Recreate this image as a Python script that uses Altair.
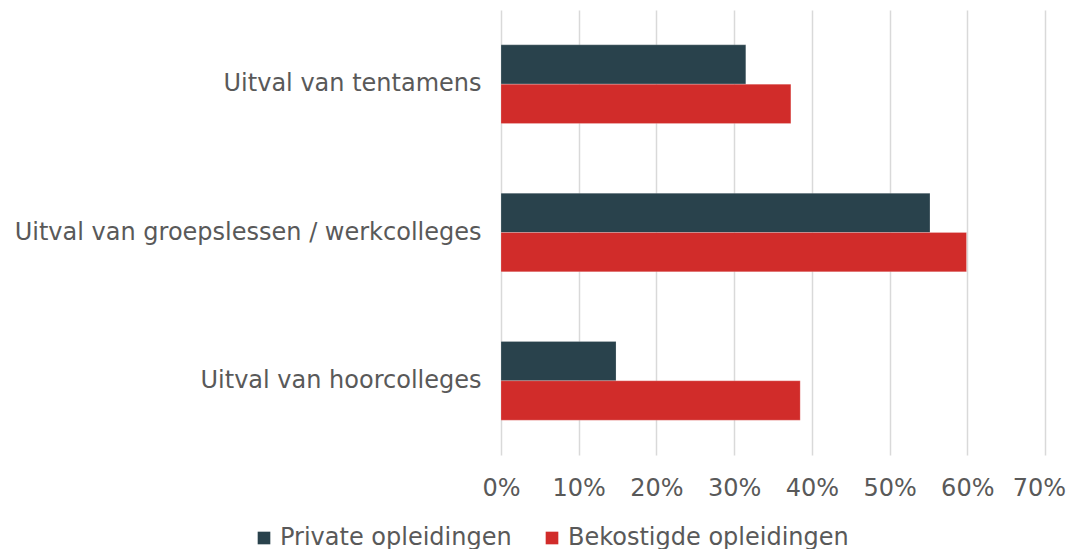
import altair as alt
import pandas as pd

categories = ["Uitval van tentamens", "Uitval van groepslessen / werkcolleges", "Uitval van hoorcolleges"]
series = ["Private opleidingen", "Bekostigde opleidingen"]
private_vals = [0.315, 0.552, 0.148]
bekostigd_vals = [0.373, 0.599, 0.385]
colors = ["#29424C", "#D12C2A"]
x_ticks = [0, 0.1, 0.2, 0.3, 0.4, 0.5, 0.6, 0.7]

rows = []
for c, p, b in zip(categories, private_vals, bekostigd_vals):
    rows.append({"cat": c, "series": series[0], "val": p})
    rows.append({"cat": c, "series": series[1], "val": b})
df = pd.DataFrame(rows)

FONT = "DejaVu Sans"
TXT = "#595959"
FS = 24

chart = alt.Chart(df).mark_bar(stroke="white", strokeWidth=0.5, strokeOpacity=0.4).encode(
    x=alt.X("val:Q", scale=alt.Scale(domain=[0, 0.7], nice=False),
            axis=alt.Axis(values=x_ticks, format=".0%", title=None, domain=False, ticks=False,
                          grid=True, gridColor="#D9D9D9", gridWidth=1.5, labelFlush=False,
                          labelOffset={"condition": {"test": "datum.value > 0.69", "value": -6}, "value": 0},
                          labelFontSize=FS, labelColor=TXT, labelFont=FONT, labelPadding=21)),
    y=alt.Y("cat:N", sort=categories,
            scale=alt.Scale(paddingInner=0.47, paddingOuter=0.235),
            axis=alt.Axis(title=None, domain=False, ticks=False, labelFontSize=FS,
                          labelColor=TXT, labelFont=FONT, labelPadding=20, labelLimit=600)),
    yOffset=alt.YOffset("series:N", sort=series),
    color=alt.Color("series:N", sort=series,
                    scale=alt.Scale(domain=series, range=colors),
                    legend=alt.Legend(title=None, orient="none", direction="horizontal",
                                      legendX=-249, legendY=516,
                                      symbolType="square", symbolSize=160, symbolStrokeWidth=0,
                                      labelFontSize=FS, labelColor=TXT, labelFont=FONT,
                                      labelLimit=400, labelOffset=4, columnPadding=28)),
).properties(
    width=544, height=445,
    autosize=alt.AutoSizeParams(type="none"),
    padding={"left": 493, "top": 2, "right": 21, "bottom": 96},
).configure_view(stroke=None)

chart.save("out.html", embed_options={"renderer": "svg", "actions": False})
